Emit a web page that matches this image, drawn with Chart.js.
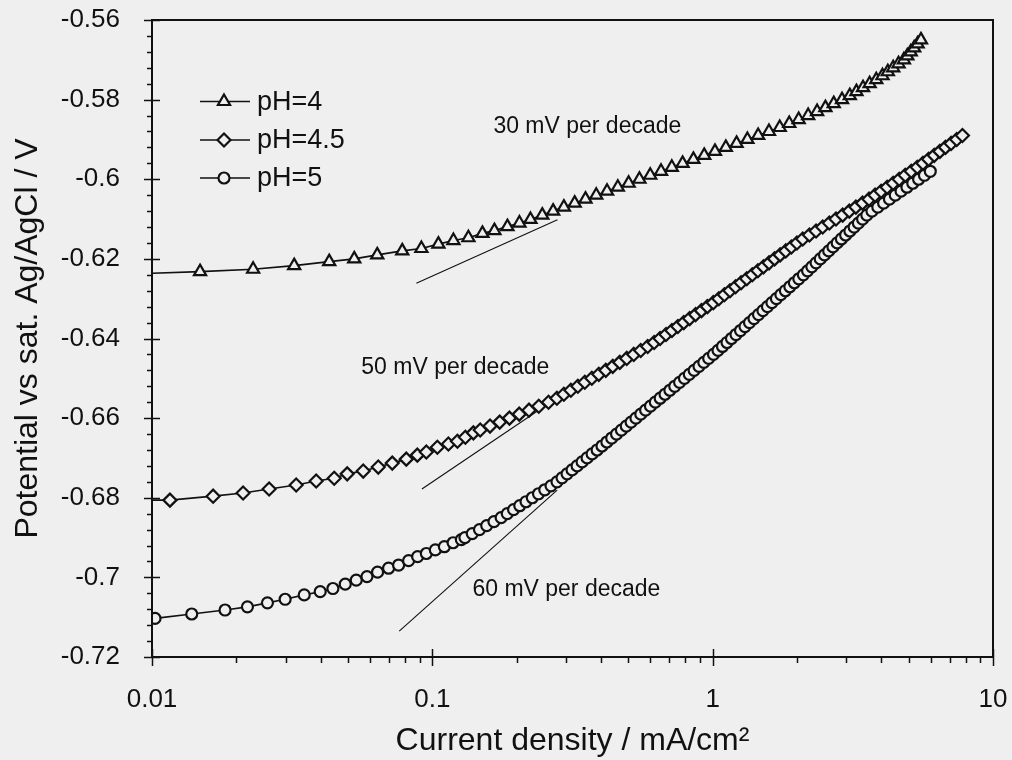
<!DOCTYPE html>
<html>
<head>
<meta charset="utf-8">
<title>Polarisation curves</title>
<script src="https://cdn.jsdelivr.net/npm/chart.js@4.4.1/dist/chart.umd.min.js"></script>
<style>
  html, body { margin: 0; padding: 0; background: #efefef; }
  #wrap { width: 1012px; height: 760px; }
</style>
</head>
<body>
<div id="wrap"><canvas id="tafel" width="1012" height="760"></canvas></div>
<script>
// ---- data (current in mA/cm2, potential in V vs Ag/AgCl) ----
const seriesNames = ['pH=4', 'pH=4.5', 'pH=5'];

// pH=4 (first point is only where the line leaves the axis, no marker)
const ph4Current = [
  0.0100, 0.01484, 0.02295, 0.03215, 0.04287, 0.05265, 0.0636, 0.0781, 0.0914, 0.1051,
  0.1189, 0.1345, 0.1509, 0.1665, 0.1853, 0.2045, 0.2239, 0.2467, 0.2697, 0.2946,
  0.3219, 0.3518, 0.3843, 0.4200, 0.4589, 0.5015, 0.5480, 0.5988, 0.6543, 0.7149,
  0.7811, 0.8536, 0.9328, 1.019, 1.114, 1.217, 1.330, 1.453, 1.588, 1.735,
  1.876, 2.027, 2.191, 2.358, 2.524, 2.703, 2.893, 3.084, 3.257, 3.439,
  3.631, 3.833, 4.034, 4.216, 4.405, 4.603, 4.810, 4.947, 5.088, 5.233,
  5.383, 5.534
];
const ph4Potential = [
  -0.6236, -0.6232, -0.6226, -0.6217, -0.6207, -0.6200, -0.6190, -0.6180, -0.6174, -0.6163,
  -0.6154, -0.6147, -0.6136, -0.6129, -0.6119, -0.6110, -0.6101, -0.609, -0.608, -0.607,
  -0.606, -0.605, -0.604, -0.603, -0.602, -0.601, -0.600, -0.599, -0.598, -0.597,
  -0.596, -0.595, -0.594, -0.593, -0.592, -0.591, -0.590, -0.589, -0.588, -0.587,
  -0.586, -0.585, -0.584, -0.583, -0.582, -0.581, -0.580, -0.579, -0.578, -0.577,
  -0.576, -0.575, -0.574, -0.573, -0.572, -0.571, -0.570, -0.569, -0.568, -0.567,
  -0.566, -0.565
];

// pH=4.5 (first point is only where the line leaves the axis, no marker)
const ph45Current = [
  0.0100, 0.01159, 0.01652, 0.02113, 0.02617, 0.03268, 0.03852, 0.04467, 0.0497, 0.05669,
  0.06414, 0.07196, 0.08074, 0.08841, 0.09519, 0.1042, 0.1141, 0.1229, 0.1312, 0.1401,
  0.1482, 0.1606, 0.1739, 0.1884, 0.2042, 0.2212, 0.2397, 0.2597, 0.2782, 0.2946,
  0.3120, 0.3304, 0.3499, 0.3707, 0.3925, 0.4157, 0.4402, 0.4662, 0.4937, 0.5229,
  0.5537, 0.5864, 0.6183, 0.6493, 0.6818, 0.7157, 0.7513, 0.7887, 0.8279, 0.8690,
  0.9123, 0.9576, 1.005, 1.052, 1.101, 1.153, 1.207, 1.263, 1.323, 1.385,
  1.450, 1.518, 1.589, 1.663, 1.741, 1.823, 1.909, 1.998, 2.096, 2.214,
  2.338, 2.469, 2.608, 2.754, 2.909, 3.072, 3.243, 3.425, 3.613, 3.796,
  3.990, 4.193, 4.405, 4.629, 4.863, 5.110, 5.370, 5.627, 5.893, 6.172,
  6.464, 6.769, 7.090, 7.425, 7.780
];
const ph45Potential = [
  -0.6806, -0.6806, -0.6796, -0.6788, -0.6778, -0.6768, -0.6758, -0.6751, -0.6740, -0.6733,
  -0.6723, -0.6713, -0.6703, -0.6693, -0.6685, -0.6673, -0.6665, -0.6658, -0.6648, -0.6637,
  -0.663, -0.662, -0.661, -0.660, -0.659, -0.658, -0.657, -0.656, -0.655, -0.654,
  -0.653, -0.652, -0.651, -0.650, -0.649, -0.648, -0.647, -0.646, -0.645, -0.644,
  -0.643, -0.642, -0.641, -0.640, -0.639, -0.638, -0.637, -0.636, -0.635, -0.634,
  -0.633, -0.632, -0.631, -0.630, -0.629, -0.628, -0.627, -0.626, -0.625, -0.624,
  -0.623, -0.622, -0.621, -0.620, -0.619, -0.618, -0.617, -0.616, -0.615, -0.614,
  -0.613, -0.612, -0.611, -0.610, -0.609, -0.608, -0.607, -0.606, -0.605, -0.604,
  -0.603, -0.602, -0.601, -0.600, -0.599, -0.598, -0.597, -0.596, -0.595, -0.594,
  -0.593, -0.592, -0.591, -0.590, -0.589
];

// pH=5
const ph5Current = [
  0.01025, 0.01386, 0.01822, 0.0219, 0.02581, 0.02985, 0.03491, 0.03981, 0.04419, 0.0489,
  0.05352, 0.05846, 0.06377, 0.06981, 0.0758, 0.0823, 0.08863, 0.09519, 0.1025, 0.1104,
  0.1186, 0.1269, 0.1307, 0.1388, 0.1473, 0.1563, 0.1659, 0.1760, 0.1851, 0.1949,
  0.2051, 0.2159, 0.2273, 0.2392, 0.2518, 0.2651, 0.2784, 0.2902, 0.3024, 0.3151,
  0.3284, 0.3422, 0.3565, 0.3715, 0.3871, 0.4029, 0.4193, 0.4363, 0.4540, 0.4725,
  0.4917, 0.5117, 0.5325, 0.5541, 0.5766, 0.6000, 0.6244, 0.6498, 0.6762, 0.7037,
  0.7323, 0.7621, 0.7931, 0.8253, 0.8588, 0.8937, 0.9300, 0.9678, 1.007, 1.045,
  1.084, 1.125, 1.167, 1.211, 1.257, 1.304, 1.353, 1.404, 1.457, 1.511,
  1.568, 1.627, 1.688, 1.751, 1.817, 1.885, 1.956, 2.029, 2.106, 2.180,
  2.258, 2.338, 2.420, 2.506, 2.594, 2.686, 2.781, 2.879, 2.981, 3.087,
  3.196, 3.309, 3.426, 3.547, 3.700, 3.882, 4.072, 4.272, 4.481, 4.700,
  4.932, 5.174, 5.428, 5.694, 5.974
];
const ph5Potential = [
  -0.7103, -0.7092, -0.7082, -0.7074, -0.7064, -0.7055, -0.7044, -0.7036, -0.7028, -0.7017,
  -0.7007, -0.6998, -0.6987, -0.6977, -0.6969, -0.6958, -0.6948, -0.6940, -0.6931, -0.6923,
  -0.6913, -0.6905, -0.690, -0.689, -0.688, -0.687, -0.686, -0.685, -0.684, -0.683,
  -0.682, -0.681, -0.680, -0.679, -0.678, -0.677, -0.676, -0.675, -0.674, -0.673,
  -0.672, -0.671, -0.670, -0.669, -0.668, -0.667, -0.666, -0.665, -0.664, -0.663,
  -0.662, -0.661, -0.660, -0.659, -0.658, -0.657, -0.656, -0.655, -0.654, -0.653,
  -0.652, -0.651, -0.650, -0.649, -0.648, -0.647, -0.646, -0.645, -0.644, -0.643,
  -0.642, -0.641, -0.640, -0.639, -0.638, -0.637, -0.636, -0.635, -0.634, -0.633,
  -0.632, -0.631, -0.630, -0.629, -0.628, -0.627, -0.626, -0.625, -0.624, -0.623,
  -0.622, -0.621, -0.620, -0.619, -0.618, -0.617, -0.616, -0.615, -0.614, -0.613,
  -0.612, -0.611, -0.610, -0.609, -0.608, -0.607, -0.606, -0.605, -0.604, -0.603,
  -0.602, -0.601, -0.600, -0.599, -0.598
];

// Tafel slope guide lines: [start, end]
const slopeLabels = ['30 mV per decade', '50 mV per decade', '60 mV per decade'];
const slopeLineCurrent = [[0.0877, 0.2795], [0.0918, 0.2704], [0.0762, 0.2789]];
const slopeLinePotential = [[-0.6261, -0.6102], [-0.6778, -0.6555], [-0.7135, -0.6781]];
// where each label starts (left edge, vertical middle)
const slopeLabelCurrent = [0.1651, 0.0558, 0.139];
const slopeLabelPotential = [-0.5869, -0.6472, -0.7032];

// axes
const xTickValues = [0.01, 0.1, 1, 10];
const xTickLabels = ['0.01', '0.1', '1', '10'];
const yTickValues = [-0.72, -0.70, -0.68, -0.66, -0.64, -0.62, -0.60, -0.58, -0.56];
const yTickLabels = ['-0.72', '-0.7', '-0.68', '-0.66', '-0.64', '-0.62', '-0.6', '-0.58', '-0.56'];

const INK = '#111111';
const PAPER = '#efefef';
const FONT = "'Liberation Sans', Arial, Helvetica, sans-serif";

function toPoints(xs, ys) {
  return xs.map((x, i) => ({ x: x, y: ys[i] }));
}

const markerStyles = [
  { pointStyle: 'triangle', radius: 7, skipFirst: true },
  { pointStyle: 'rectRot', radius: 6.5, skipFirst: true },
  { pointStyle: 'circle', radius: 5.5, skipFirst: false }
];

const seriesData = [
  toPoints(ph4Current, ph4Potential),
  toPoints(ph45Current, ph45Potential),
  toPoints(ph5Current, ph5Potential)
];

const datasets = seriesData.map((pts, i) => ({
  label: seriesNames[i],
  data: pts,
  borderColor: INK,
  borderWidth: 1.6,
  pointStyle: markerStyles[i].pointStyle,
  pointRadius: c => (markerStyles[i].skipFirst && c.dataIndex === 0) ? 0 : markerStyles[i].radius,
  pointBorderWidth: 2.2,
  pointBorderColor: INK,
  pointBackgroundColor: PAPER,
  tension: 0,
  fill: false,
  order: i + 1
}));

slopeLineCurrent.forEach((xs, i) => {
  datasets.push({
    label: slopeLabels[i],
    data: toPoints(xs, slopeLinePotential[i]),
    borderColor: INK,
    borderWidth: 1.1,
    pointRadius: 0,
    fill: false,
    order: 10
  });
});

// background, frame, tick marks, legend and the slope labels
const decorPlugin = {
  id: 'decor',
  beforeDraw(chart) {
    const ctx = chart.ctx;
    ctx.save();
    ctx.fillStyle = PAPER;
    ctx.fillRect(0, 0, chart.width, chart.height);
    ctx.restore();
  },
  afterDraw(chart) {
    const ctx = chart.ctx;
    const { left, right, top, bottom } = chart.chartArea;
    const xs = chart.scales.x;
    const ys = chart.scales.y;
    ctx.save();
    ctx.strokeStyle = INK;
    ctx.lineWidth = 2;
    ctx.strokeRect(left, top, right - left, bottom - top);

    ctx.lineWidth = 1.5;
    ctx.beginPath();
    // y ticks: majors cross the axis, minors point outwards
    for (let k = 0; k <= 40; k++) {
      const v = -0.72 + k * 0.004;
      const py = Math.round(ys.getPixelForValue(v)) + 0.5;
      if (k % 5 === 0) {
        ctx.moveTo(left - 8, py); ctx.lineTo(left + 8, py);
      } else {
        ctx.moveTo(left - 5, py); ctx.lineTo(left, py);
      }
    }
    // x ticks: decades cross the axis, 2..9 point outwards
    xTickValues.forEach(v => {
      const px = Math.round(xs.getPixelForValue(v)) + 0.5;
      ctx.moveTo(px, bottom - 8); ctx.lineTo(px, bottom + 9);
    });
    [0.01, 0.1, 1].forEach(d => {
      for (let m = 2; m <= 9; m++) {
        const px = Math.round(xs.getPixelForValue(d * m)) + 0.5;
        ctx.moveTo(px, bottom); ctx.lineTo(px, bottom + 6);
      }
    });
    ctx.stroke();

    // slope labels
    ctx.fillStyle = INK;
    ctx.font = '23px ' + FONT;
    ctx.textAlign = 'left';
    ctx.textBaseline = 'middle';
    slopeLabels.forEach((t, i) => {
      ctx.fillText(t, xs.getPixelForValue(slopeLabelCurrent[i]), ys.getPixelForValue(slopeLabelPotential[i]));
    });

    // legend: short line with marker, then the name
    const rows = [101.5, 140, 178];
    ctx.font = '27px ' + FONT;
    seriesNames.forEach((name, i) => {
      const y = rows[i];
      ctx.strokeStyle = INK;
      ctx.lineWidth = 1.6;
      ctx.beginPath();
      ctx.moveTo(200, y); ctx.lineTo(250, y);
      ctx.stroke();
      ctx.fillStyle = PAPER;
      ctx.lineWidth = 2.2;
      Chart.helpers.drawPoint(ctx, {
        pointStyle: markerStyles[i].pointStyle,
        radius: markerStyles[i].radius,
        rotation: 0,
        borderWidth: 2.2
      }, 224, y);
      ctx.fillStyle = INK;
      ctx.fillText(name, 257, y + 1);
    });
    ctx.restore();
  }
};

new Chart(document.getElementById('tafel'), {
  type: 'line',
  data: { datasets: datasets },
  options: {
    responsive: false,
    animation: false,
    events: [],
    layout: { padding: { top: 20, right: 19, left: 0, bottom: 0 } },
    plugins: {
      legend: { display: false },
      tooltip: { enabled: false }
    },
    scales: {
      x: {
        type: 'logarithmic',
        min: 0.01,
        max: 10,
        afterBuildTicks: s => { s.ticks = xTickValues.map(v => ({ value: v, major: true })); },
        afterFit: s => { s.height = 103; s.paddingLeft = 0; s.paddingRight = 0; },
        grid: { display: false },
        border: { display: false },
        ticks: {
          autoSkip: false,
          maxRotation: 0,
          padding: 19,
          color: INK,
          font: { family: FONT, size: 26 },
          callback: (v, i) => xTickLabels[i]
        },
        title: {
          display: true,
          text: 'Current density / mA/cm\u00b2',
          color: INK,
          font: { family: FONT, size: 32 },
          padding: { top: 0, bottom: 0 }
        }
      },
      y: {
        type: 'linear',
        min: -0.72,
        max: -0.56,
        afterBuildTicks: s => { s.ticks = yTickValues.map(v => ({ value: v })); },
        afterFit: s => { s.width = 152; s.paddingTop = 0; s.paddingBottom = 0; },
        grid: { display: false },
        border: { display: false },
        ticks: {
          autoSkip: false,
          padding: 24,
          color: INK,
          font: { family: FONT, size: 26 },
          callback: (v, i) => yTickLabels[i]
        },
        title: {
          display: true,
          text: 'Potential vs sat. Ag/AgCl / V',
          color: INK,
          font: { family: FONT, size: 32 },
          padding: { top: 9, bottom: 0 }
        }
      }
    }
  },
  plugins: [decorPlugin]
});
</script>
</body>
</html>
